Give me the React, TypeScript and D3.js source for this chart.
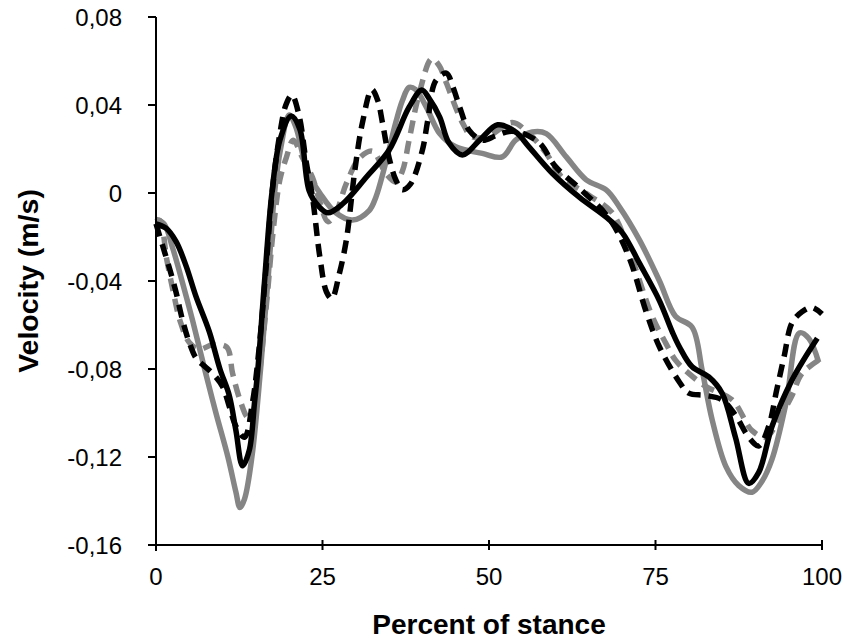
import React from "react";
import * as d3 from "d3";

const X_TICKS = [0, 25, 50, 75, 100];
const Y_TICKS = [0.08, 0.04, 0, -0.04, -0.08, -0.12, -0.16];
const Y_TICK_LABELS = ["0,08", "0,04", "0", "-0,04", "-0,08", "-0,12", "-0,16"];

const graySolid: [number, number][] = [
  [0, -0.012], [1.2, -0.014], [2.5, -0.025], [4, -0.041], [5.5, -0.058], [7.3, -0.08], [9, -0.1], [10.8, -0.12], [12, -0.136], [12.6, -0.143],
  [13.3, -0.139], [14.4, -0.12], [15.7, -0.08], [16.8, -0.04], [17.8, 0.0], [18.7, 0.02], [20, 0.0355], [21, 0.03], [22, 0.018], [23, 0.008],
  [24.6, 0.0], [27, -0.009], [29.5, -0.0123], [32, -0.008], [33, -0.002], [34.6, 0.015], [36, 0.032], [37, 0.042], [38, 0.048], [39, 0.047],
  [40.6, 0.039], [42.6, 0.027], [45, 0.021], [49, 0.018], [52, 0.0164], [54, 0.024], [56.5, 0.0277], [58.6, 0.027], [61.6, 0.0164], [64.6, 0.006],
  [67.6, 0.0014], [69.6, -0.0064], [72.6, -0.0214], [75.6, -0.04], [78, -0.056], [80.5, -0.061], [82, -0.0805], [83.5, -0.103], [85.6, -0.1245], [87.5, -0.133],
  [89.5, -0.136], [91, -0.131], [92.5, -0.121], [94.6, -0.0955], [96.6, -0.0636], [98, -0.066], [99.5, -0.077],
];

const grayDashed: [number, number][] = [
  [0, -0.013], [0.6, -0.0125], [1.6, -0.03], [2.6, -0.045], [3.6, -0.058], [5, -0.068], [6.5, -0.071], [8.5, -0.069], [10.6, -0.07], [11.5, -0.082],
  [12.6, -0.094], [13.8, -0.102], [14.5, -0.1], [15.2, -0.09], [16.6, -0.05], [17.6, -0.017], [18.6, 0.006], [19.6, 0.0164], [20.6, 0.024], [22, 0.016],
  [23.5, 0.007], [24.6, -0.004], [25.8, -0.013], [27, -0.009], [28.6, 0.0045], [30.6, 0.016], [32.5, 0.019], [34.5, 0.009], [36, 0.005], [37, 0.01],
  [38, 0.024], [39.5, 0.045], [41.4, 0.061], [42.5, 0.058], [43.6, 0.05], [46, 0.032], [47.5, 0.0255], [50, 0.026], [53.5, 0.032], [56, 0.027],
  [58.6, 0.018], [61, 0.007], [65, -0.001], [68.5, -0.009], [71, -0.026], [74.5, -0.056], [76.5, -0.068], [78, -0.076], [80, -0.082], [82.6, -0.088],
  [86.5, -0.094], [89.5, -0.108], [91.6, -0.111], [93.5, -0.103], [95.5, -0.092], [97, -0.082], [100, -0.075],
];

const blackDashed: [number, number][] = [
  [0, -0.014], [1, -0.024], [2, -0.034], [3, -0.045], [4, -0.058], [5, -0.068], [6, -0.075], [7, -0.078], [8.5, -0.082], [10, -0.088],
  [11, -0.097], [12, -0.106], [13.3, -0.111], [14.5, -0.095], [15.5, -0.07], [16.5, -0.035], [17.5, 0.002], [18.6, 0.027], [19.5, 0.04], [20.4, 0.0445],
  [21.5, 0.035], [22.5, 0.015], [23.5, -0.002], [24.6, -0.029], [25.6, -0.045], [26.4, -0.048], [27.5, -0.037], [28.6, -0.021], [29.8, 0.009], [31, 0.032],
  [32.4, 0.047], [33.3, 0.042], [34, 0.032], [35, 0.016], [36, 0.006], [37, 0.0015], [38.2, 0.004], [40, 0.0195], [40.8, 0.033], [42, 0.051],
  [43.6, 0.0545], [44.6, 0.048], [45.6, 0.039], [47, 0.0286], [49, 0.024], [51, 0.026], [53, 0.028], [54.9, 0.0273], [57.6, 0.0227], [60, 0.012],
  [64, 0.001], [68, -0.0114], [71, -0.029], [73.6, -0.054], [75.6, -0.07], [78.6, -0.086], [80, -0.091], [82.5, -0.092], [85, -0.094], [87, -0.101],
  [89, -0.111], [90.5, -0.115], [92, -0.106], [93.2, -0.0895], [94.3, -0.0745], [95.5, -0.059], [97, -0.054], [98.5, -0.052], [100, -0.055],
];

const blackSolid: [number, number][] = [
  [0, -0.014], [1.5, -0.016], [3, -0.022], [4.5, -0.033], [6, -0.047], [8, -0.063], [9.6, -0.08], [11, -0.092], [12, -0.108], [13, -0.124],
  [14, -0.117], [14.8, -0.095], [15.3, -0.08], [16.3, -0.04], [17.4, 0.0], [18.6, 0.024], [20.3, 0.035], [21.6, 0.029], [23, 0.001], [24.4, -0.006],
  [25.8, -0.009], [28, -0.005], [31.6, 0.0073], [35, 0.0195], [38, 0.039], [39.9, 0.0468], [41, 0.043], [42.6, 0.0345], [44, 0.0227], [46, 0.0173],
  [48.6, 0.024], [51.3, 0.031], [54, 0.0277], [56, 0.021], [59.5, 0.009], [63.6, -0.002], [67.6, -0.011], [70, -0.018], [72.6, -0.032], [75.6, -0.049],
  [77.5, -0.063], [78.6, -0.07], [80.5, -0.079], [83, -0.0836], [85, -0.091], [87, -0.111], [89, -0.132], [90.5, -0.127], [92.5, -0.106], [95.5, -0.085],
  [99.3, -0.066],
];

const W = 847;
const H = 641;
const L = 156, R = 822, T = 17, B = 545;
const FONT = "'Liberation Sans', Arial, Helvetica, sans-serif";

export default function App() {
  const x = d3.scaleLinear().domain([0, 100]).range([L, R]);
  const y = d3.scaleLinear().domain([-0.16, 0.08]).range([B, T]);
  const line = d3
    .line<[number, number]>()
    .x((d) => x(d[0]))
    .y((d) => y(d[1]))
    .curve(d3.curveCatmullRom.alpha(0.5));

  const series = [
    { data: graySolid, color: "#858585", dash: undefined },
    { data: grayDashed, color: "#858585", dash: "13,8" },
    { data: blackDashed, color: "#000000", dash: "13,8" },
    { data: blackSolid, color: "#000000", dash: undefined },
  ];

  return (
    <svg width={W} height={H} style={{ position: "absolute", left: 0, top: 0, background: "#fff" }}>
      <rect x={0} y={0} width={W} height={H} fill="#fff" />
      {series.map((s, i) => (
        <path
          key={i}
          d={line(s.data) || ""}
          fill="none"
          stroke={s.color}
          strokeWidth={5.5}
          strokeDasharray={s.dash}
          strokeLinejoin="round"
        />
      ))}
      {/* y axis */}
      <line x1={L} x2={L} y1={T} y2={B + 6} stroke="#000" strokeWidth={2} />
      {Y_TICKS.map((t, i) => (
        <g key={i}>
          <line x1={L - 8} x2={L} y1={y(t)} y2={y(t)} stroke="#000" strokeWidth={2} />
          <text x={L - 34} y={y(t)} dy="0.36em" textAnchor="end" fontFamily={FONT} fontSize={24} fill="#000">
            {Y_TICK_LABELS[i]}
          </text>
        </g>
      ))}
      {/* x axis */}
      <line x1={L - 8} x2={R} y1={B} y2={B} stroke="#000" strokeWidth={2} />
      {X_TICKS.map((t, i) => (
        <g key={i}>
          <line x1={x(t)} x2={x(t)} y1={B - 5} y2={B + 5} stroke="#000" strokeWidth={2} />
          <text x={x(t)} y={B + 40} textAnchor="middle" fontFamily={FONT} fontSize={24} fill="#000">
            {t}
          </text>
        </g>
      ))}
      <text x={(L + R) / 2} y={634} textAnchor="middle" fontFamily={FONT} fontSize={28} fontWeight="bold" fill="#000">
        Percent of stance
      </text>
      <text
        transform={`translate(38, ${(T + B) / 2}) rotate(-90)`}
        textAnchor="middle"
        fontFamily={FONT}
        fontSize={28.5}
        fontWeight="bold"
        fill="#000"
      >
        Velocity (m/s)
      </text>
    </svg>
  );
}
